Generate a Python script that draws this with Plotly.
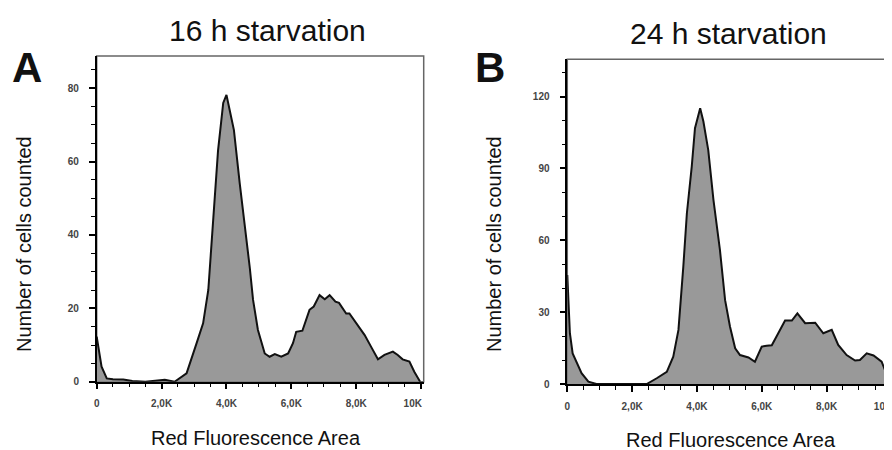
import plotly.graph_objects as go

# 16 h starvation histogram (red fluorescence area vs count)
a_x = [0, 150, 310, 500, 820, 1100, 1500, 1950, 2100, 2400, 2770, 3080, 3280, 3440, 3590,
       3740, 3900, 4000, 4100, 4230, 4410, 4610, 4720, 4820, 4970, 5180, 5330, 5490, 5690,
       5900, 6050, 6150, 6340, 6560, 6690, 6870, 7030, 7180, 7360, 7470, 7690, 7790, 8000,
       8260, 8460, 8670, 8870, 9130, 9280, 9430, 9640, 9790, 9970]
a_y = [12.3, 4.1, 0.9, 0.7, 0.6, 0.2, 0, 0.5, 0.5, 0, 2.3, 10.5, 15.9, 25, 45,
       63, 76, 78.2, 74, 68.6, 54, 39.5, 31, 22.3, 14.1, 7.7, 6.8, 7.5, 6.8,
       7.7, 10.5, 13.6, 13.9, 19.6, 20.5, 23.6, 22.5, 23.6, 21.8, 21.5, 18.6, 18.6, 15.9,
       12.7, 9.5, 6.1, 7.3, 8.2, 7.3, 6.1, 5.5, 2.7, 0]

# 24 h starvation histogram
b_x = [0, 80, 165, 290, 440, 650, 900, 1500, 2000, 2450, 2760, 3070, 3270, 3430, 3580,
       3690, 3840, 3940, 4100, 4200, 4350, 4510, 4710, 4870, 5020, 5180, 5330, 5590, 5790,
       6000, 6150, 6310, 6510, 6720, 6930, 7100, 7340, 7650, 7900, 8160, 8360, 8620, 8880,
       9030, 9240, 9450, 9700, 9860, 9980]
b_y = [45.5, 21.2, 12.8, 9.3, 4.5, 1.0, 0, 0, 0, 0, 2.4, 5.1, 11.4, 22.6, 49,
       71.3, 90.8, 106.8, 115.2, 109.6, 97.7, 76.9, 56, 35, 24, 14.9, 12.1, 11.1, 9.3,
       15.6, 16.0, 16.2, 21.2, 26.5, 26.5, 29.5, 25.4, 25.6, 21.2, 22.6, 16.3, 12.1, 9.8,
       10.0, 12.8, 11.9, 9.3, 3.8, 0]

x_tickvals = [0, 2000, 4000, 6000, 8000, 10000]
# last label sits left of its tick in the original, padded with nbsp
x_ticktext = ["0", "2,0K", "4,0K", "6,0K", "8,0K", "10K" + "\u00a0" * 6]
a_ytickvals = [0, 20, 40, 60, 80]
b_ytickvals = [0, 30, 60, 90, 120]

# page body has an 8px margin, so work in screen pixels and convert
W, H, OFF = 884, 442, 8

def px(x):
    return (x - OFF) / W

def py(y):
    return 1 - (y - OFF) / H

FONT = "Liberation Sans, Arial, sans-serif"
tickfont = dict(family=FONT, size=10, color="#444444", weight="bold")

fig = go.Figure()
fig.add_trace(go.Scatter(x=a_x, y=a_y, mode="lines", fill="tozeroy",
                         fillcolor="#999999", line=dict(color="#111111", width=2),
                         xaxis="x", yaxis="y", showlegend=False))
fig.add_trace(go.Scatter(x=b_x, y=b_y, mode="lines", fill="tozeroy",
                         fillcolor="#999999", line=dict(color="#111111", width=2),
                         xaxis="x2", yaxis="y2", showlegend=False))

xcommon = dict(showgrid=False, zeroline=False, showline=True, linecolor="black", linewidth=1.5,
               ticks="outside", ticklen=6, tickwidth=1.5, tickcolor="black",
               tickvals=x_tickvals, ticktext=x_ticktext, tickfont=tickfont,
               ticklabelstandoff=6, automargin=False, ticklabeloverflow="allow",
               minor=dict(ticks="outside", dtick=500, tick0=0, ticklen=4, tickwidth=1,
                          tickcolor="black", showgrid=False))
ycommon = dict(showgrid=False, zeroline=False, showline=True, linecolor="black", linewidth=1.5,
               ticks="outside", ticklen=6, tickwidth=1.5, tickcolor="black",
               tickfont=tickfont, ticklabelstandoff=8, automargin=False)

fig.update_layout(
    width=W, height=H, margin=dict(l=0, r=0, t=0, b=0),
    paper_bgcolor="white", plot_bgcolor="white",
    xaxis=dict(xcommon, domain=[px(96.7), px(423.7)], range=[0, 10080], anchor="y"),
    yaxis=dict(ycommon, domain=[py(381.7), py(56)], range=[0, 88.8], anchor="x",
               tickvals=a_ytickvals,
               minor=dict(ticks="outside", dtick=5, tick0=0, ticklen=4, tickwidth=1,
                          tickcolor="black", showgrid=False)),
    xaxis2=dict(xcommon, domain=[px(567.3), 1.0], range=[0, 10020], anchor="y2"),
    yaxis2=dict(ycommon, domain=[py(384), py(59.3)], range=[0, 135.6], anchor="x2",
                tickvals=b_ytickvals,
                minor=dict(ticks="outside", dtick=10, tick0=0, ticklen=4, tickwidth=1,
                           tickcolor="black", showgrid=False)),
)

# grey frame on top / right
for xr, yr in (("x", "y"), ("x2", "y2")):
    fig.add_shape(type="rect", xref=f"{xr} domain", yref=f"{yr} domain",
                  x0=0, x1=1, y0=0, y1=1, layer="below",
                  line=dict(color="#666666", width=1.5))

def text(x, y, s, size, bold=False, angle=0):
    fig.add_annotation(x=px(x), y=py(y), xref="paper", yref="paper", text=s, showarrow=False,
                       xanchor="center", yanchor="middle", textangle=angle,
                       font=dict(family=FONT, size=size, color="#111111",
                                 weight="bold" if bold else "normal"))

text(267, 30, "16 h starvation", 30)
text(728, 33, "24 h starvation", 30)
text(27, 68, "A", 42, bold=True)
text(490, 68, "B", 42, bold=True)
text(24, 244, "Number of cells counted", 20, angle=-90)
text(494, 244, "Number of cells counted", 20, angle=-90)
text(256, 438, "Red Fluorescence Area", 20)
text(731, 440, "Red Fluorescence Area", 20)

fig.write_html("out.html")
